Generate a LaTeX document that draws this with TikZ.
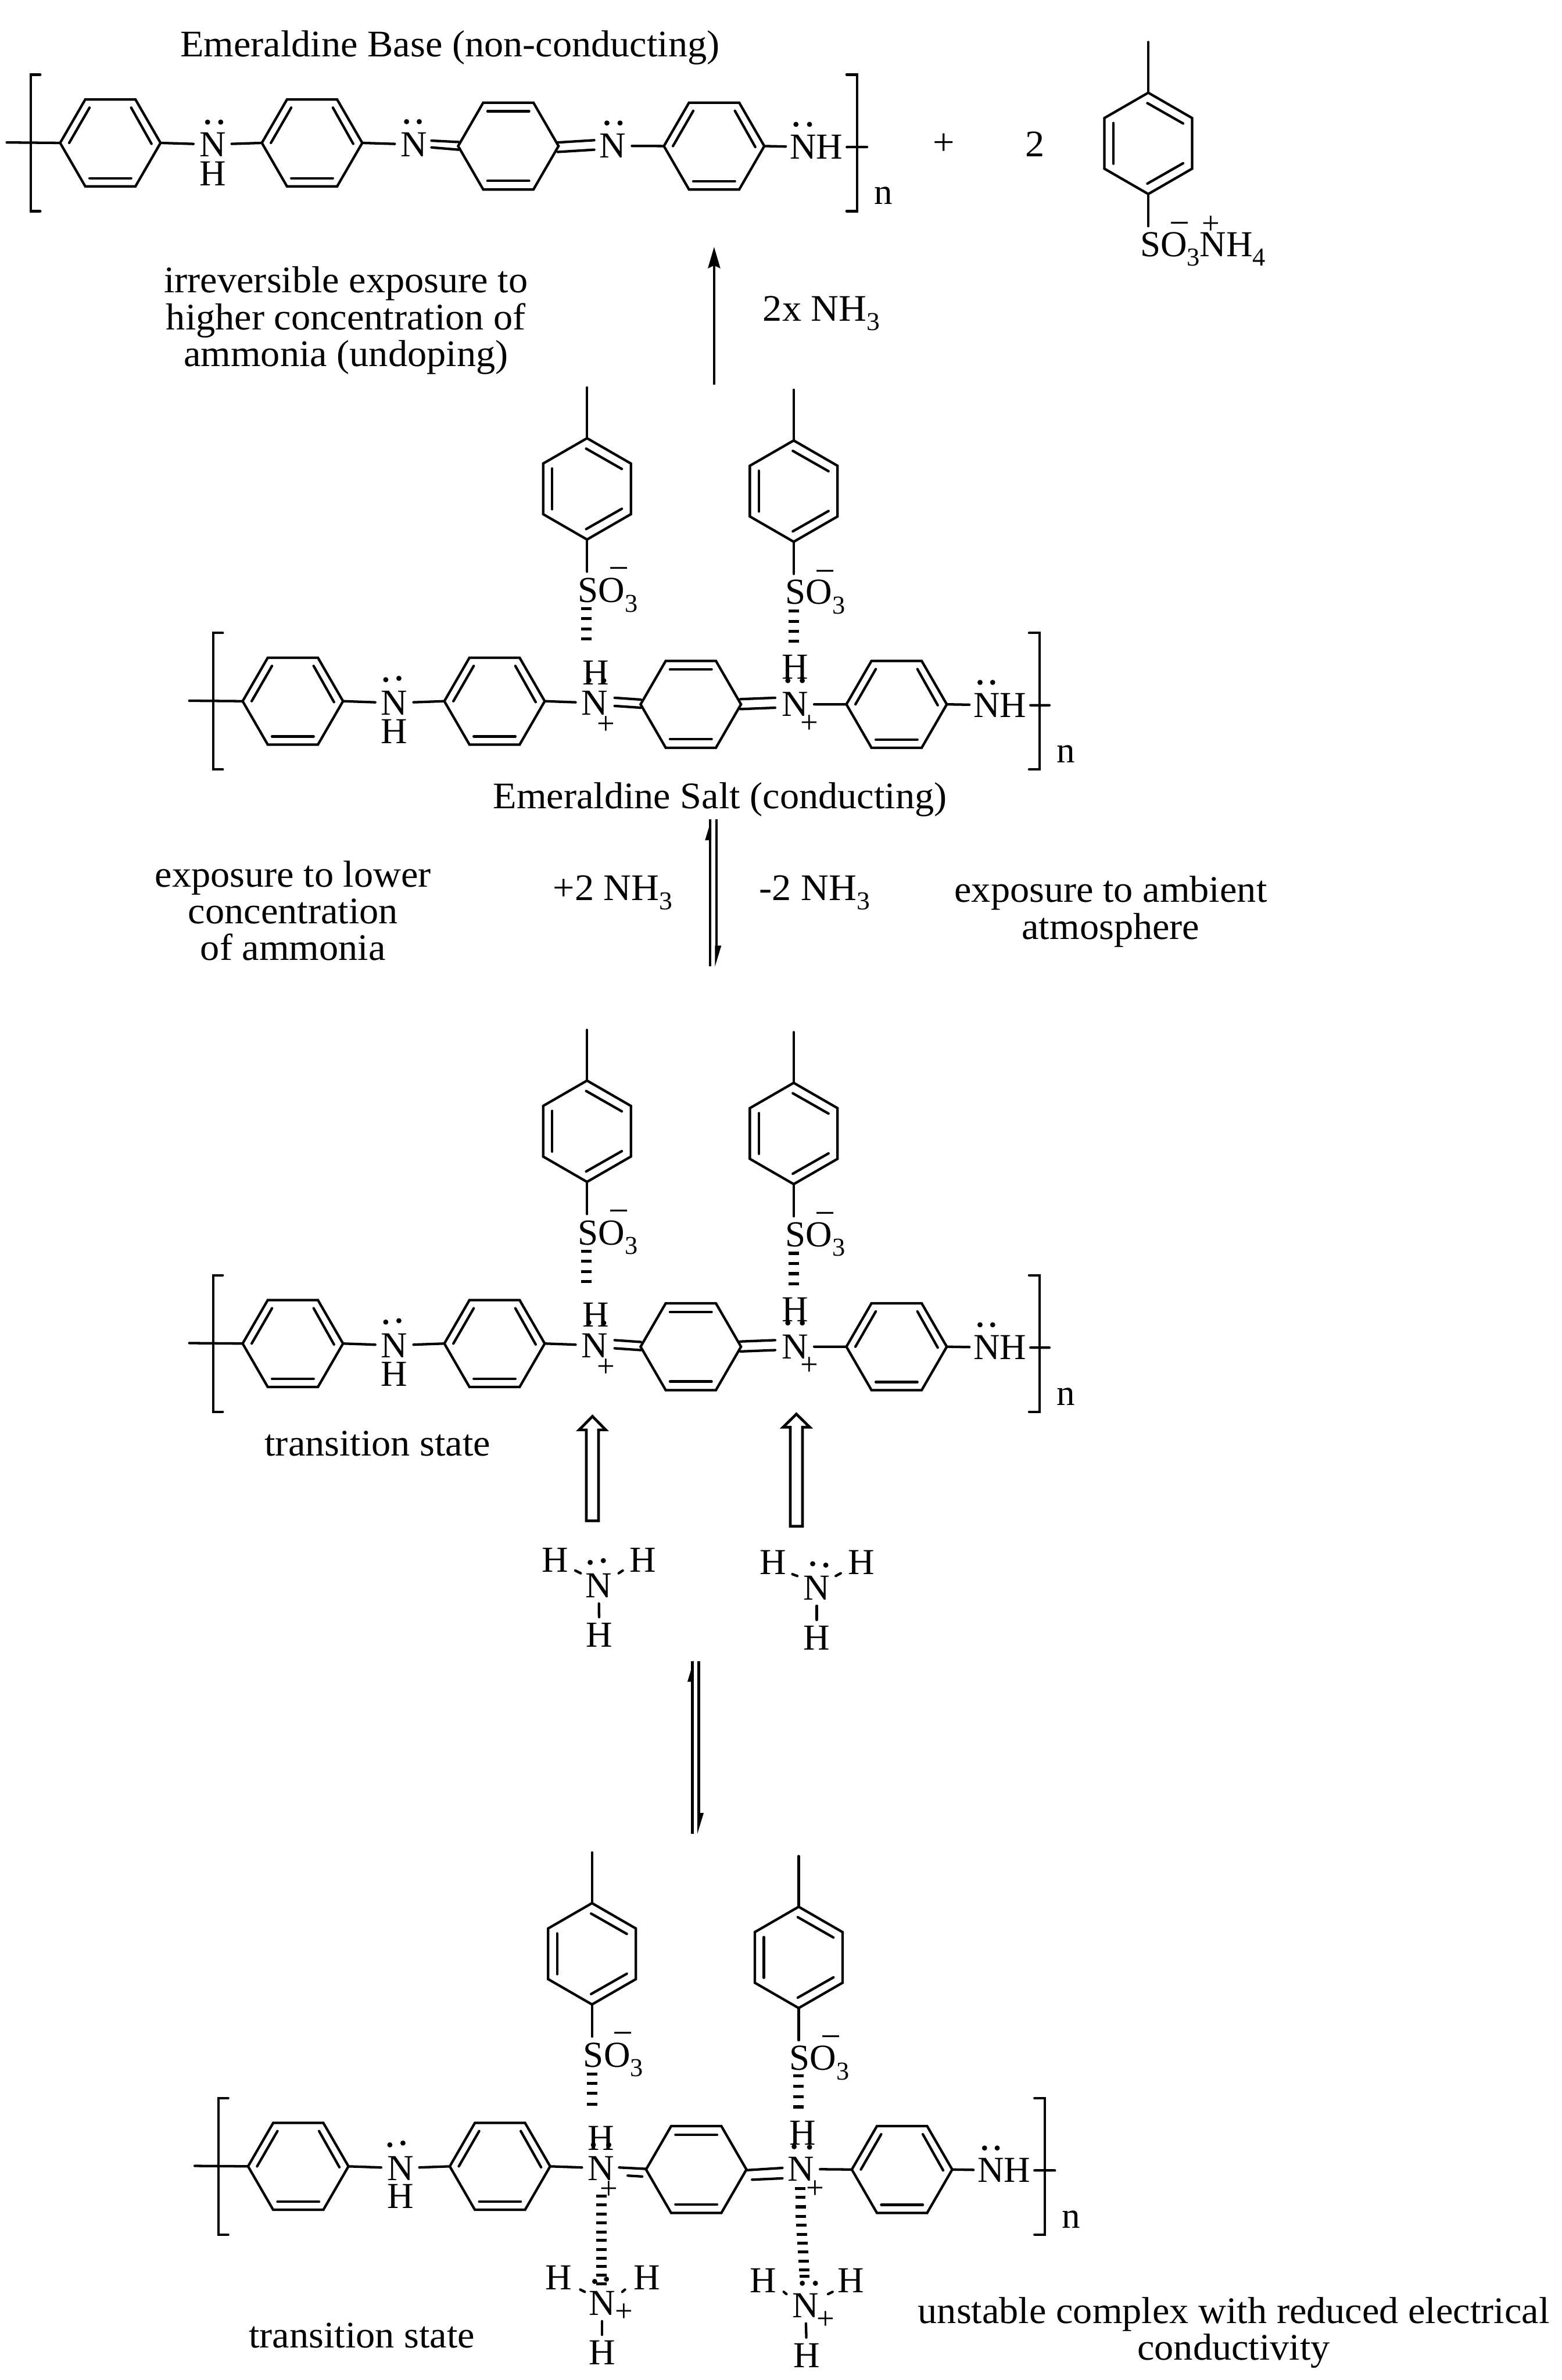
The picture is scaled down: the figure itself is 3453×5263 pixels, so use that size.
\documentclass[tikz,border=0pt]{standalone}
\usepackage{fontspec}
\setmainfont{Liberation Serif}
\newfontfamily\labfam[FakeStretch=1.027]{Liberation Serif}
\usetikzlibrary{arrows.meta}
\newcommand{\atomfont}{\fontsize{8.1}{9.6}\selectfont}
\newcommand{\labfont}{\labfam\fontsize{8.3}{8.15}\selectfont}
\newcommand{\subs}[1]{\raisebox{-2.1pt}{\fontsize{5.7}{6}\selectfont #1}}
\newcommand{\labsubs}[1]{\raisebox{-2.1pt}{\fontsize{5.7}{6}\selectfont #1}}
\tikzset{
  bond/.style={line width=0.55pt,line cap=round,line join=miter},
  hb/.style={line width=0.65pt},
  atom/.style={font=\atomfont,inner sep=0pt,outer sep=1.3pt},
  plain/.style={font=\atomfont,inner sep=0pt,outer sep=0pt},
  lab/.style={font=\labfont,inner sep=0pt,outer sep=0pt},
  mlab/.style={font=\labfont,inner sep=0pt,outer sep=0pt,align=center},
  charge/.style={font=\fontsize{7}{8}\selectfont,inner sep=0pt,outer sep=0pt,yshift=-0.4pt},
  minus/.style={font=\fontsize{8}{9}\selectfont,inner sep=0pt,outer sep=0pt,yshift=-1pt},
  hollow/.style={line width=0.6pt,line join=miter,fill=white},
}
% horizontal-axis rings
\newcommand{\hexbase}[3]{%
  \begin{scope}[shift={(#2,#3)}]
    \coordinate (#1-l) at (-111,0);
    \coordinate (#1-r) at (111,0);
    \draw[bond] (#1-l) -- (-55.5,-96) -- (55.5,-96) -- (#1-r) -- (55.5,96) -- (-55.5,96) -- cycle;
  \end{scope}}
\newcommand{\benzH}[3]{%
  \hexbase{#1}{#2}{#3}%
  \begin{scope}[shift={(#2,#3)}]
    \draw[bond] (-46,-78) -- (-91,0);
    \draw[bond] (46,-78) -- (91,2);
    \draw[bond] (-46,78) -- (46,78);
  \end{scope}}
\newcommand{\quinH}[3]{%
  \hexbase{#1}{#2}{#3}%
  \begin{scope}[shift={(#2,#3)}]
    \draw[bond] (-46,-77) -- (46,-77);
    \draw[bond] (-46,77) -- (46,77);
  \end{scope}}
% backbone: prefix, dx, dy
\newcommand{\backbone}[3]{%
  \begin{scope}[shift={(#2,#3)}]
    \benzH{#1r1}{244}{316}
    \benzH{#1r2}{690}{316}
    \quinH{#1r3}{1124}{323}
    \benzH{#1r4}{1579}{323}
    \coordinate (#1sl) at (15,315);
    \coordinate (#1sr) at (1917,325);
    \draw[bond] (#1sl) -- (#1r1-l);
    \draw[bond] (89,165) -- (68,165) -- (68,467) -- (89,467);
    \draw[bond] (1872,165) -- (1895,165) -- (1895,467) -- (1872,467);
    \node[plain,anchor=base] (#1n) at (1953,452) {n};
  \end{scope}}
% top sulfonate ring: prefix, cx, cy
\newcommand{\tolyl}[3]{%
  \begin{scope}[shift={(#2,#3)}]
    \coordinate (#1-t) at (0,-112);
    \coordinate (#1-b) at (0,112);
    \coordinate (#1-m) at (0,-224);
    \coordinate (#1-e) at (0,183);
    \draw[bond] (#1-t) -- (97,-56) -- (97,56) -- (#1-b) -- (-97,56) -- (-97,-56) -- cycle;
    \draw[bond] (-77,-45) -- (-77,45);
    \draw[bond] (-2,-89) -- (77,-44);
    \draw[bond] (-2,89) -- (77,44);
    \draw[bond] (#1-t) -- (#1-m);
    \draw[bond] (#1-b) -- (#1-e);
  \end{scope}}
\newcommand{\hdash}[2]{\foreach \yy in {#2} \draw[hb] (#1-11.5,\yy) -- (#1+11.5,\yy);}
\newcommand{\lp}[4]{\fill (#1,#2) circle[radius=5.7]; \fill (#3,#4) circle[radius=5.7];}
\newcommand{\equil}[4]{%
  \draw[line width=0.55pt] (#1,#3) -- (#1,#4);
  \draw[line width=0.55pt] (#2,#3) -- (#2,#4-40);
  \fill (#1+3,#3) -- (#1+3,#3+46) -- (#1-11,#3+46) -- cycle;
  \fill (#2-3,#4) -- (#2-3,#4-46) -- (#2+11,#4-46) -- cycle;}
\newcommand{\hollowup}[4]{%
  \draw[hollow] (#1-13.5,#4) -- (#1-13.5,#3) -- (#1-29.5,#3) -- (#1,#2) -- (#1+29.5,#3) -- (#1+13.5,#3) -- (#1+13.5,#4) -- cycle;}
\begin{document}
\begin{tikzpicture}[x=0.1pt,y=-0.1pt]
\useasboundingbox (0,0) rectangle (3453,5263);
\fill[white] (0,0) rectangle (3453,5263);

%%%%%%%%%% chain 1
\node[lab,anchor=base] (title1) at (995,125.5) {Emeraldine Base (non-conducting)};
\backbone{a}{0}{0}
\node[atom,anchor=base] (aN1) at (470,346) {N};
\node[atom,anchor=base] (aH1) at (470,410) {H};
\lp{459}{270}{488}{270}
\node[atom,anchor=base] (aN2) at (915,346) {N};
\lp{899}{269}{927}{269}
\node[atom,anchor=base] (aN3) at (1355,349) {N};
\lp{1342}{272}{1371}{272}
\node[atom,anchor=base,outer sep=0.9pt] (aNH) at (1805,352) {NH};
\lp{1760}{275}{1790}{275}
\draw[bond] (ar1-r) -- (aN1);
\draw[bond] (aN1) -- (ar2-l);
\draw[bond] (ar2-r) -- (aN2);
\draw[bond] (aN3) -- (ar4-l);
\draw[bond] (ar4-r) -- (aNH);
\draw[bond] (aNH) -- (asr);
\draw[bond] (954,311) -- (1014,314);
\draw[bond] (954,326) -- (1014,331);
\draw[bond] (1233,315) -- (1314,310);
\draw[bond] (1233,336) -- (1314,331);

\node[lab] (plus0) at (2087,319) {+};
\node[lab] (two0) at (2289,319) {2};
\tolyl{t0}{2539}{317}
\node[plain,anchor=base west] (so0) at (2521,567) {SO\subs{3}NH\subs{4}};
\node[minus] (m0) at (2609,495) {−};
\node[charge] (p0) at (2678,494) {+};

%%%%%%%%%% top arrow and texts
\coordinate (up1b) at (1579,851);
\coordinate (up1t) at (1579,546);
\draw[line width=0.5pt,-{Stealth[length=4.7pt,width=2.7pt,inset=0.6pt]}] (up1b) -- (up1t);
\node[mlab] (irr) at (765,709) {irreversible exposure to\\higher concentration of\\ammonia (undoping)};
\node[lab,anchor=base west] (x2nh) at (1687,710) {2x NH\labsubs{3}};

%%%%%%%%%% chain 2 and chain 3 (same drawing)
\foreach \pp/\dy in {b/0,c/1420.5} {
  \backbone{\pp}{403.5}{1234.5+\dy}
  \begin{scope}[shift={(0,\dy)}]
    \node[atom,anchor=base] (\pp N1) at (872,1581) {N};
    \node[atom,anchor=base] (\pp H1) at (872,1644) {H};
    \lp{853}{1503}{882}{1500}
    \node[atom,anchor=base] (\pp N2) at (1315,1581) {N};
    \node[atom,anchor=base] (\pp H2) at (1318,1514) {H};
    \lp{1302}{1504}{1335}{1505}
    \node[charge] (\pp P2) at (1340,1600) {+};
    \node[atom,anchor=base] (\pp N3) at (1758,1584) {N};
    \node[atom,anchor=base] (\pp H3) at (1758,1502) {H};
    \lp{1742}{1505}{1774}{1505}
    \node[charge] (\pp P3) at (1790,1597) {+};
    \node[atom,anchor=base,outer sep=0.9pt] (\pp NH) at (2211,1586) {NH};
    \lp{2167}{1509}{2195}{1509}
    \draw[bond] (1359,1543) -- (1417,1547);
    \draw[bond] (1359,1561) -- (1417,1565);
    \draw[bond] (1637,1546) -- (1714,1543);
    \draw[bond] (1637,1568) -- (1714,1565);
    \tolyl{\pp t1}{1298}{1081}
    \tolyl{\pp t2}{1755}{1086}
    \node[plain,anchor=base west] (\pp so1) at (1278,1332) {SO\subs{3}};
    \node[plain,anchor=base west] (\pp so2) at (1737,1336) {SO\subs{3}};
    \node[minus] (\pp m1) at (1369,1259) {−};
    \node[minus] (\pp m2) at (1825,1265) {−};
    \hdash{1297}{1346,1368,1391,1413}
    \hdash{1755}{1351,1374,1396,1418}
  \end{scope}
  \draw[bond] (\pp r1-r) -- (\pp N1);
  \draw[bond] (\pp N1) -- (\pp r2-l);
  \draw[bond] (\pp r2-r) -- (\pp N2);
  \draw[bond] (\pp N3) -- (\pp r4-l);
  \draw[bond] (\pp r4-r) -- (\pp NH);
  \draw[bond] (\pp NH) -- (\pp sr);
}

%%%%%%%%%% middle labels
\node[lab,anchor=base] (salt) at (1592,1788) {Emeraldine Salt (conducting)};
\equil{1570}{1584}{1812}{2137}
\node[mlab] (lowexp) at (648,2014) {exposure to lower\\concentration\\of ammonia};
\node[lab,anchor=base west] (plus2) at (1223,1991) {+2 NH\labsubs{3}};
\node[lab,anchor=base west] (minus2) at (1679,1991) {-2 NH\labsubs{3}};
\node[mlab] (ambient) at (2456,2016) {exposure to ambient\\atmosphere};
\node[lab,anchor=base] (ts1) at (835,3219) {transition state};

%%%%%%%%%% ammonia molecules and hollow arrows
\hollowup{1310}{3132}{3162}{3363}
\hollowup{1761}{3127}{3156}{3375}
\node[atom,anchor=base] (h1a) at (1228,3476) {H};
\node[atom,anchor=base] (h1b) at (1422,3476) {H};
\node[atom,anchor=base] (n1) at (1324,3533) {N};
\node[atom,anchor=base] (h1c) at (1325,3642) {H};
\lp{1305}{3455}{1334}{3451}
\draw[bond] (n1) -- (h1c);
\draw[bond] (1272,3473) -- (1284,3479);
\draw[bond] (1377,3473) -- (1368,3479);
\node[atom,anchor=base] (h2a) at (1709,3482) {H};
\node[atom,anchor=base] (h2b) at (1904,3482) {H};
\node[atom,anchor=base] (n2) at (1806,3538) {N};
\node[atom,anchor=base] (h2c) at (1806,3648) {H};
\lp{1797}{3458}{1826}{3461}
\draw[bond] (n2) -- (h2c);
\draw[bond] (1752,3481) -- (1763,3485);
\draw[bond] (1859,3479) -- (1848,3485);
\equil{1531}{1545}{3673}{4055}

%%%%%%%%%% chain 4
\backbone{d}{415.5}{4474.5}
\node[atom,anchor=base] (dN1) at (885,4821) {N};
\node[atom,anchor=base] (dH1) at (885,4883.5) {H};
\lp{862}{4743}{891}{4739}
\node[atom,anchor=base] (dN2) at (1329,4821) {N};
\node[atom,anchor=base] (dH2) at (1329,4754.5) {H};
\lp{1312}{4743}{1346}{4743}
\node[charge] (dP2) at (1346,4839) {+};
\node[atom,anchor=base] (dN3) at (1771,4823) {N};
\node[atom,anchor=base] (dH3) at (1775,4743.5) {H};
\lp{1756}{4747}{1790}{4748}
\node[charge] (dP3) at (1803,4837) {+};
\node[atom,anchor=base,outer sep=0.9pt] (dNH) at (2220,4826) {NH};
\lp{2177}{4750}{2205}{4750}
\draw[bond] (dr1-r) -- (dN1);
\draw[bond] (dN1) -- (dr2-l);
\draw[bond] (dr2-r) -- (dN2);
\draw[bond] (dN3) -- (dr4-l);
\draw[bond] (dr4-r) -- (dNH);
\draw[bond] (dNH) -- (dsr);
\draw[bond] (1369,4793) -- (1427,4796);
\draw[bond] (1388,4811) -- (1420,4813);
\draw[bond] (1650,4799) -- (1730,4794);
\draw[bond] (1663,4820) -- (1730,4817);
\tolyl{dt1}{1309}{4320.5}
\tolyl{dt2}{1766}{4328.5}
\node[plain,anchor=base west] (dso1) at (1290,4571) {SO\subs{3}};
\node[plain,anchor=base west] (dso2) at (1746,4578) {SO\subs{3}};
\node[minus] (dm1) at (1378,4498) {−};
\node[minus] (dm2) at (1837,4506) {−};
\hdash{1309}{4586,4607,4629,4653}
\hdash{1766}{4590,4614,4637,4659}
\hdash{1330}{4856,4876,4896,4915,4936,4954,4974,4994,5012,5031,5050}
\foreach \xx/\yy in {1769/4839,1770/4859,1771/4880,1771/4901,1772/4920,1773/4941,1774/4960,1776/4980,1777/5000,1778/5019,1779/5034}
  \draw[hb] (\xx-11.5,\yy) -- (\xx+11.5,\yy);
% ammonium 1
\node[atom,anchor=base] (hx1a) at (1235,5063.5) {H};
\node[atom,anchor=base] (hx1b) at (1431,5063.5) {H};
\node[atom,anchor=base] (nx1) at (1331,5120) {N};
\node[atom,anchor=base] (hx1c) at (1331,5229) {H};
\node[charge] (px1) at (1380,5110) {+};
\lp{1315}{5045}{1341}{5040}
\draw[bond] (nx1) -- (hx1c);
\draw[bond] (1283,5063) -- (1293,5068);
\draw[bond] (1382,5063) -- (1376,5068);
% ammonium 2
\node[atom,anchor=base] (hx2a) at (1688,5070) {H};
\node[atom,anchor=base] (hx2b) at (1882,5070) {H};
\node[atom,anchor=base] (nx2) at (1781,5125) {N};
\node[atom,anchor=base] (hx2c) at (1784,5235) {H};
\node[charge] (px2) at (1826,5127) {+};
\lp{1774}{5049}{1803}{5049}
\draw[bond] (nx2) -- (hx2c);
\draw[bond] (1733,5068) -- (1739,5073);
\draw[bond] (1841,5068) -- (1831,5073);

\node[lab,anchor=base] (ts2) at (800,5191) {transition state};
\node[mlab] (unst) at (2728,5158) {unstable complex with reduced electrical\\conductivity};
\end{tikzpicture}
\end{document}
